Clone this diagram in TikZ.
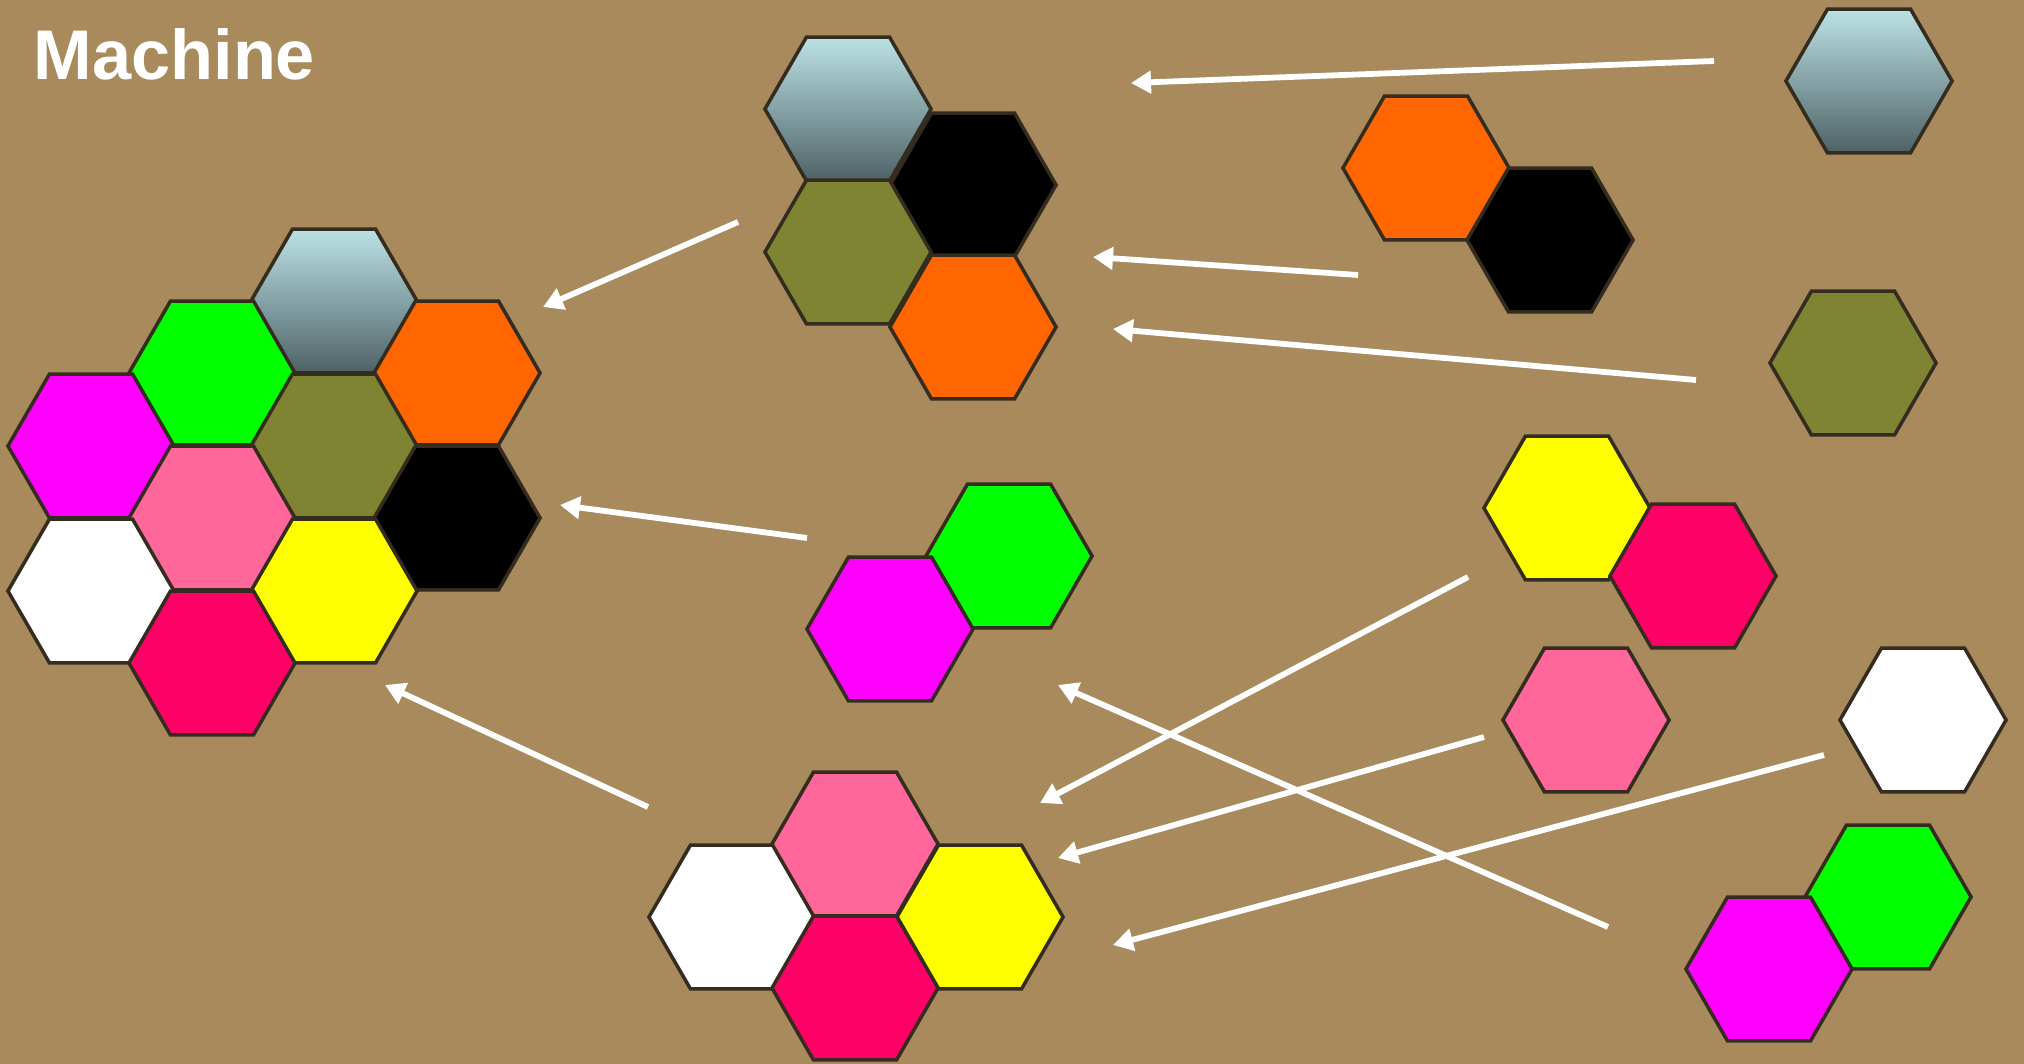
\documentclass[tikz,border=0pt]{standalone}
\usepackage{fontspec}
\setmainfont{Liberation Sans}
\usetikzlibrary{arrows.meta,shapes.geometric}
\definecolor{board}{RGB}{168,138,92}
\definecolor{rim}{RGB}{52,44,30}
\definecolor{icetop}{RGB}{188,226,230}
\definecolor{icebot}{RGB}{78,98,102}
\definecolor{lime}{RGB}{0,255,0}
\definecolor{tang}{RGB}{255,102,0}
\definecolor{moss}{RGB}{127,132,51}
\definecolor{fuch}{RGB}{255,0,255}
\definecolor{rose}{RGB}{255,102,153}
\definecolor{lemon}{RGB}{255,255,0}
\definecolor{ruby}{RGB}{255,0,102}
\tikzset{
  hexa/.style={regular polygon,regular polygon sides=6,minimum size=1.66cm,
    inner sep=0pt,draw=rim,line width=.035cm},
  ice/.style={hexa,top color=icetop,bottom color=icebot},
  arr/.style={draw=white,line width=.058cm,-{Triangle[width=.22cm,length=.2cm]}}
}

\begin{document}
\begin{tikzpicture}[x=.01cm,y=-.01cm]
\fill[board] (0,0) rectangle (2024,1064);
\node[anchor=base west,inner sep=0pt,text=white,font=\bfseries\fontsize{20}{24}\selectfont] (title) at (33,80) {Machine};
% assembled machine
\node[ice] (aIce) at (334,301) {};
\node[hexa,fill=lime] (aLime) at (212,373) {};
\node[hexa,fill=tang] (aTang) at (457,373) {};
\node[hexa,fill=fuch] (aFuch) at (91,446) {};
\node[hexa,fill=moss] (aMoss) at (334,446) {};
\node[hexa,fill=rose] (aRose) at (212,518) {};
\node[hexa,fill=black] (aBlack) at (457,518) {};
\node[hexa,fill=white] (aWhite) at (91,591) {};
\node[hexa,fill=lemon] (aLemon) at (334,591) {};
\node[hexa,fill=ruby] (aRuby) at (212,663) {};
% top part
\node[ice] (tIce) at (848,109) {};
\node[hexa,fill=black] (tBlack) at (973,185) {};
\node[hexa,fill=moss] (tMoss) at (848,252) {};
\node[hexa,fill=tang] (tTang) at (973,327) {};
% middle pair
\node[hexa,fill=lime] (mLime) at (1009,556) {};
\node[hexa,fill=fuch] (mFuch) at (890,629) {};
% bottom part
\node[hexa,fill=white] (bWhite) at (732,917) {};
\node[hexa,fill=rose] (bRose) at (855,844) {};
\node[hexa,fill=lemon] (bLemon) at (980,917) {};
\node[hexa,fill=ruby] (bRuby) at (855,988) {};
% loose pieces
\node[ice] (sIce) at (1869,81) {};
\node[hexa,fill=tang] (sTang) at (1426,168) {};
\node[hexa,fill=black] (sBlack) at (1550,240) {};
\node[hexa,fill=moss] (sMoss) at (1853,363) {};
\node[hexa,fill=lemon] (sLemon) at (1567,508) {};
\node[hexa,fill=ruby] (sRuby) at (1693,576) {};
\node[hexa,fill=rose] (sRose) at (1586,720) {};
\node[hexa,fill=white] (sWhite) at (1923,720) {};
\node[hexa,fill=lime] (sLime) at (1888,897) {};
\node[hexa,fill=fuch] (sFuch) at (1769,969) {};
% arrows
\coordinate (p1) at (1714,61);  \coordinate (q1) at (1131,83);
\coordinate (p2) at (1358,275); \coordinate (q2) at (1093,257);
\coordinate (p3) at (1696,380); \coordinate (q3) at (1113,329);
\coordinate (p4) at (738,222);  \coordinate (q4) at (543,307);
\coordinate (p5) at (807,538);  \coordinate (q5) at (560,505);
\coordinate (p6) at (648,807);  \coordinate (q6) at (385,685);
\coordinate (p7) at (1468,577); \coordinate (q7) at (1040,803);
\coordinate (p8) at (1484,737); \coordinate (q8) at (1058,858);
\coordinate (p9) at (1824,755); \coordinate (q9) at (1113,945);
\coordinate (p10) at (1608,927); \coordinate (q10) at (1058,685);
\foreach \i in {1,...,10}
  \draw[arr] (p\i) -- (q\i);
\end{tikzpicture}
\end{document}
